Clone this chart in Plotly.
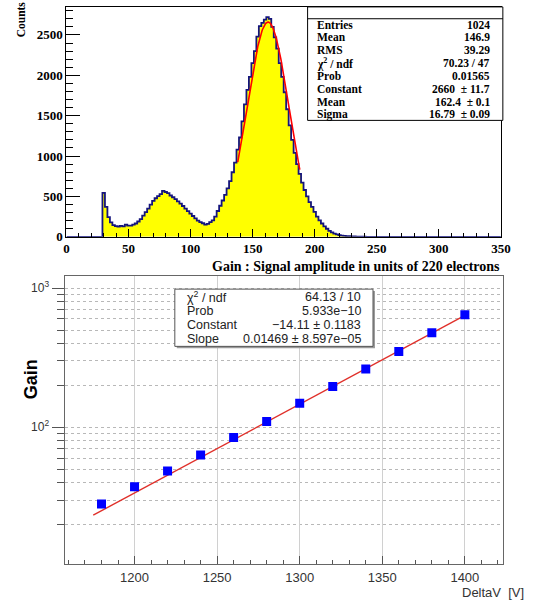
import numpy as np
import plotly.graph_objects as go

# ---------------- data ----------------
# Top: histogram (bin width 2, first bin starts at 29)
hist_first_edge = 29
hist_bin_width = 2
hist_counts = [
    545, 370, 245, 180, 145, 132, 128, 135, 130, 150,
    140, 138, 150, 165, 190, 220, 262, 305, 350, 400,
    445, 478, 505, 530, 570, 555, 540, 512, 490, 468,
    440, 410, 382, 350, 318, 288, 258, 228, 200, 182,
    168, 150, 160, 182, 205, 250, 320, 385, 450, 520,
    600, 690, 800, 920, 1080, 1230, 1430, 1640, 1820, 1980,
    2150, 2300, 2480, 2610, 2650, 2690, 2720, 2700, 2600, 2470,
    2330, 2150, 1980, 1790, 1580, 1380, 1200, 1040, 900, 780,
    670, 580, 500, 430, 370, 310, 250, 205, 165, 130,
    100, 75, 55, 40, 30, 22, 16, 12, 9, 7,
    5, 4, 3, 2, 1, 1, 0,
]
gaus_const, gaus_mean, gaus_sigma = 2660, 162.4, 16.79
gaus_fit_range = (138, 188)

top_stats_labels = ["Entries", "Mean", "RMS", "χ<sup>2</sup> / ndf", "Prob",
                    "Constant", "Mean", "Sigma"]
top_stats_values = ["1024", "146.9", "39.29", "70.23 / 47", "0.01565",
                    "2660 \u00a0± 11.7", "162.4 \u00a0± 0.1", "16.79 \u00a0± 0.09"]

top_xticks = [0, 50, 100, 150, 200, 250, 300, 350]
top_yticks = [0, 500, 1000, 1500, 2000, 2500]

# Bottom: gain vs DeltaV
deltav = [1180, 1200, 1220, 1240, 1260, 1280, 1300, 1320, 1340, 1360, 1380, 1400]
gain = [28.1, 37.3, 48.5, 63.3, 84.5, 110, 149, 196, 262, 350, 477, 644]
fit_const, fit_slope = -14.11, 0.01469
fit_range = (1175, 1402)

bot_stats_labels = ["χ<sup>2</sup> / ndf", "Prob", "Constant", "Slope"]
bot_stats_values = ["64.13 / 10", "5.933e−10", "−14.11 ± 0.1183", "0.01469 ± 8.597e−05"]

bot_xticks = [1200, 1250, 1300, 1350, 1400]
bot_ymajor = [100, 1000]
bot_ymajor_text = ["10<sup>2</sup>", "10<sup>3</sup>"]
bot_yminor = [20, 30, 40, 50, 60, 70, 80, 90, 200, 300, 400, 500, 600, 700, 800, 900]

# ---------------- figure ----------------
W, H = 548, 606


def px(x, y):
    return x / W, 1 - y / H


fig = go.Figure()

# histogram outline (step)
n = len(hist_counts)
edges = [hist_first_edge + hist_bin_width * i for i in range(n + 1)]
hx = [0] + edges + [350]
hy = [0] + hist_counts + [0, 0]
fig.add_trace(go.Scatter(x=hx, y=hy, mode="lines", line_shape="hv",
                         fill="tozeroy", fillcolor="#ffff00",
                         line=dict(color="#14147c", width=1.8),
                         xaxis="x", yaxis="y", hoverinfo="skip"))
xg = np.linspace(gaus_fit_range[0], gaus_fit_range[1], 200)
yg = gaus_const * np.exp(-0.5 * ((xg - gaus_mean) / gaus_sigma) ** 2)
fig.add_trace(go.Scatter(x=xg, y=yg, mode="lines",
                         line=dict(color="#ff0000", width=1.6),
                         xaxis="x", yaxis="y"))

# bottom graph
xf = np.linspace(fit_range[0], fit_range[1], 60)
yf = np.exp(fit_const + fit_slope * xf)
fig.add_trace(go.Scatter(x=xf, y=yf, mode="lines",
                         line=dict(color="#e0302a", width=1.4),
                         xaxis="x2", yaxis="y2"))
fig.add_trace(go.Scatter(x=deltav, y=gain, mode="markers",
                         marker=dict(symbol="square", size=9, color="#0000ff",
                                     line=dict(width=0)),
                         xaxis="x2", yaxis="y2"))

serif = "Liberation Serif"
sans = "Liberation Sans"

top_dom_x = [65 / W, 510 / W]
top_dom_y = [1 - 240 / H, 1 - 7 / H]
bot_dom_x = [63 / W, 512 / W]
bot_dom_y = [1 - 572 / H, 1 - 280 / H]

fig.update_layout(
    width=W, height=H,
    margin=dict(l=0, r=0, t=0, b=0),
    paper_bgcolor="white", plot_bgcolor="white",
    showlegend=False,
    xaxis=dict(domain=top_dom_x, anchor="y", range=[0, 350],
               tickvals=top_xticks, ticks="inside", ticklen=8, tickcolor="black",
               minor=dict(dtick=10, ticks="inside", ticklen=4, tickcolor="black"),
               showgrid=False, zeroline=False, ticklabelstandoff=0,
               showline=True, mirror=True, linecolor="black", linewidth=1,
               tickfont=dict(family=serif, size=13, color="black", weight="bold")),
    yaxis=dict(domain=top_dom_y, anchor="x", range=[0, 2847],
               tickvals=top_yticks, ticks="inside", ticklen=14, tickcolor="black",
               minor=dict(dtick=100, ticks="inside", ticklen=7, tickcolor="black"),
               showgrid=False, zeroline=False,
               showline=True, mirror=True, linecolor="black", linewidth=1,
               tickfont=dict(family=serif, size=13, color="black", weight="bold")),
    xaxis2=dict(domain=bot_dom_x, anchor="y2", range=[1157.6, 1423],
                tickvals=bot_xticks, ticks="inside", ticklen=8, tickcolor="#555",
                minor=dict(dtick=10, ticks="inside", ticklen=4, tickcolor="#555"),
                showgrid=True, gridcolor="#d0d0d0", gridwidth=1,
                zeroline=False, ticklabelstandoff=1,
                showline=True, mirror=True, linecolor="#666", linewidth=1,
                tickfont=dict(family=sans, size=13, color="#333")),
    yaxis2=dict(domain=bot_dom_y, anchor="x2", type="log", range=[1.014, 3.085],
                tickvals=bot_ymajor, ticktext=bot_ymajor_text,
                ticks="outside", ticklen=12, tickcolor="#555",
                minor=dict(tickvals=bot_yminor, ticks="outside", ticklen=7,
                           tickcolor="#555", showgrid=True, gridcolor="#b8b8b8",
                           griddash="dot", gridwidth=1),
                showgrid=True, gridcolor="#b8b8b8", griddash="dot", gridwidth=1,
                zeroline=False,
                showline=True, mirror=True, linecolor="#666", linewidth=1,
                tickfont=dict(family=sans, size=12, color="#333")),
)

shapes = []
annotations = []

# top stats box
x0, y0 = px(312, 7)
x1, y1 = px(512, 122)
shapes.append(dict(type="rect", xref="paper", yref="paper", x0=x0, y0=y1, x1=x1, y1=y0,
                   line=dict(color="black", width=1), fillcolor="white", layer="above"))
lx0, ly = px(312, 19)
lx1, _ = px(512, 19)
shapes.append(dict(type="line", xref="paper", yref="paper", x0=lx0, y0=ly, x1=lx1, y1=ly,
                   line=dict(color="black", width=1), layer="above"))
for i, (lab, val) in enumerate(zip(top_stats_labels, top_stats_values)):
    yy = 25 + i * 13.0
    ax, ay = px(320, yy)
    annotations.append(dict(x=ax, y=ay, xref="paper", yref="paper", text=lab,
                             showarrow=False, xanchor="left", yanchor="middle",
                             font=dict(family=serif, size=11.5, color="black", weight="bold")))
    bx, by = px(501, yy)
    annotations.append(dict(x=bx, y=by, xref="paper", yref="paper", text=val,
                             showarrow=False, xanchor="right", yanchor="middle",
                             font=dict(family=serif, size=11.5, color="black", weight="bold")))

# top axis titles
cx, cy = px(18, 20)
annotations.append(dict(x=cx, y=cy, xref="paper", yref="paper", text="Counts",
                         textangle=-90, showarrow=False, xanchor="center", yanchor="middle",
                         font=dict(family=serif, size=11.5, color="black", weight="bold")))
tx, ty = px(511, 270)
annotations.append(dict(x=tx, y=ty, xref="paper", yref="paper",
                         text="Gain : Signal amplitude in units of 220 electrons",
                         showarrow=False, xanchor="right", yanchor="middle",
                         font=dict(family=serif, size=14, color="black", weight="bold")))

# bottom stats box (with shadow)
sx0, sy0 = px(178, 295)
sx1, sy1 = px(381, 353)
shapes.append(dict(type="rect", xref="paper", yref="paper", x0=sx0, y0=sy1, x1=sx1, y1=sy0,
                   line=dict(color="#999", width=0), fillcolor="#9a9a9a", layer="above"))
bx0, by0 = px(176, 293)
bx1, by1 = px(379, 351)
shapes.append(dict(type="rect", xref="paper", yref="paper", x0=bx0, y0=by1, x1=bx1, y1=by0,
                   line=dict(color="#555", width=1), fillcolor="white", layer="above"))
for i, (lab, val) in enumerate(zip(bot_stats_labels, bot_stats_values)):
    yy = 300.5 + i * 14.3
    ax, ay = px(186, yy)
    annotations.append(dict(x=ax, y=ay, xref="paper", yref="paper", text=lab,
                             showarrow=False, xanchor="left", yanchor="middle",
                             font=dict(family=sans, size=12.5, color="#222")))
    vx, vy = px(369, yy)
    annotations.append(dict(x=vx, y=vy, xref="paper", yref="paper", text=val,
                             showarrow=False, xanchor="right", yanchor="middle",
                             font=dict(family=sans, size=12.5, color="#222")))

# bottom axis titles
gx, gy = px(29, 384)
annotations.append(dict(x=gx, y=gy, xref="paper", yref="paper", text="Gain",
                         textangle=-90, showarrow=False, xanchor="center", yanchor="middle",
                         font=dict(family=sans, size=18, color="black", weight="bold")))
dx, dy = px(536, 600)
annotations.append(dict(x=dx, y=dy, xref="paper", yref="paper", text="DeltaV \u00a0[V]",
                         showarrow=False, xanchor="right", yanchor="middle",
                         font=dict(family=sans, size=13, color="#333")))

fig.update_layout(shapes=shapes, annotations=annotations)

fig.write_html("out.html", config={"displayModeBar": False},
               post_script="document.body.style.margin='0';document.body.style.overflow='hidden';")
